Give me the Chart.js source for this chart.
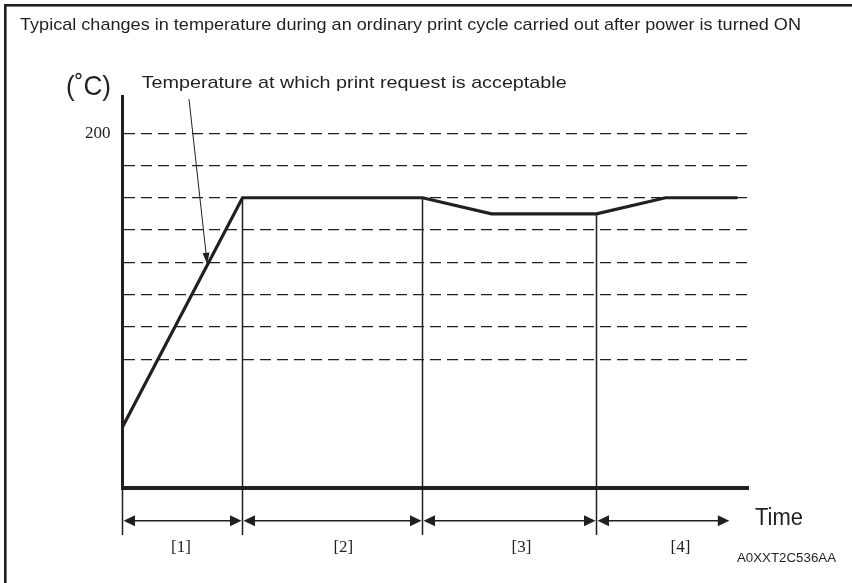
<!DOCTYPE html>
<html>
<head>
<meta charset="utf-8">
<script src="https://cdn.jsdelivr.net/npm/chart.js@4/dist/chart.umd.min.js"></script>
<style>
  html, body { margin: 0; padding: 0; background: #ffffff; }
  #wrap { position: relative; width: 852px; height: 583px; }
  canvas { display: block; }
</style>
</head>
<body>
<div id="wrap"><canvas id="chart" width="852" height="583"></canvas></div>
<script>
// Fixing temperature over one print cycle after power ON
const timePoints   = [0, 20, 50, 61.5, 79, 90.5, 102.5];
const temperatures = [109, 180, 180, 175, 175, 180, 180];

// Dashed reference levels (°C) and the only labelled tick
const gridTemps  = [130, 140, 150, 160, 170, 180, 190, 200];
const tickLabels = ['200'];

// Cycle phases along the time axis
const phaseBounds = [0, 20, 50, 79, 101.3];
const phaseLabels = ['[1]', '[2]', '[3]', '[4]'];
const phaseLabelAt = [9.75, 36.8, 66.5, 93];

// Temperature at which a print request is accepted
const readyTemp = 160;

const INK = '#231f20';
const SANS = '"Liberation Sans", Arial, sans-serif';
const SERIF = '"Liberation Serif", "Times New Roman", serif';

function tempAt(t) {
  for (let i = 1; i < timePoints.length; i++) {
    if (t <= timePoints[i]) {
      const f = (t - timePoints[i - 1]) / (timePoints[i] - timePoints[i - 1]);
      return temperatures[i - 1] + f * (temperatures[i] - temperatures[i - 1]);
    }
  }
  return temperatures[temperatures.length - 1];
}

function timeAtRamp(temp) {
  const f = (temp - temperatures[0]) / (temperatures[1] - temperatures[0]);
  return timePoints[0] + f * (timePoints[1] - timePoints[0]);
}

function drawText(ctx, str, x, y, font, width, align) {
  ctx.save();
  ctx.font = font;
  const w = ctx.measureText(str).width;
  const k = width ? width / w : 1;
  const left = align === 'center' ? x - (w * k) / 2 : x;
  ctx.translate(left, y);
  ctx.scale(k, 1);
  ctx.textAlign = 'left';
  ctx.textBaseline = 'alphabetic';
  ctx.fillStyle = INK;
  ctx.fillText(str, 0, 0);
  ctx.restore();
}

function arrowHead(ctx, tipX, tipY, dx, dy, len, half) {
  const n = Math.hypot(dx, dy);
  const ux = dx / n, uy = dy / n;
  const bx = tipX - ux * len, by = tipY - uy * len;
  ctx.beginPath();
  ctx.moveTo(tipX, tipY);
  ctx.lineTo(bx - uy * half, by + ux * half);
  ctx.lineTo(bx + uy * half, by - ux * half);
  ctx.closePath();
  ctx.fill();
}

const decorations = {
  id: 'decorations',
  afterDraw(chart) {
    const ctx = chart.ctx;
    const xs = chart.scales.x, ys = chart.scales.y;
    const axisY = chart.chartArea.bottom;
    const dimTop = axisY, dimBottom = 535, dimY = 520.7;

    ctx.save();
    ctx.fillStyle = INK;
    ctx.strokeStyle = INK;

    // frame
    ctx.fillRect(4, 4, 848, 2.6);
    ctx.fillRect(4, 4, 2.6, 579);

    // texts
    drawText(ctx, 'Typical changes in temperature during an ordinary print cycle carried out after power is turned ON',
      20, 30, '17px ' + SANS, 781);
    drawText(ctx, '(\u02DAC)', 66, 95, '28px ' + SANS, 45);
    drawText(ctx, 'Temperature at which print request is acceptable', 141.7, 88.3, '17px ' + SANS, 425);
    drawText(ctx, 'Time', 755, 525, '23px ' + SANS, 48);
    drawText(ctx, 'A0XXT2C536AA', 737, 561.7, '12px ' + SANS, 99);

    // leader to the print-ready point on the warm-up ramp
    const tipX = xs.getPixelForValue(timeAtRamp(readyTemp)) - 1.5;
    const tipY = ys.getPixelForValue(readyTemp) + 1.5;
    const tailX = 189, tailY = 99;
    ctx.lineWidth = 1;
    ctx.beginPath();
    ctx.moveTo(tailX, tailY);
    ctx.lineTo(tipX, tipY);
    ctx.stroke();
    arrowHead(ctx, tipX, tipY, tipX - tailX, tipY - tailY, 11, 3.5);

    // phase boundary lines
    ctx.lineWidth = 1.5;
    phaseBounds.slice(0, 4).forEach((t) => {
      const px = xs.getPixelForValue(t);
      const top = t === 0 ? dimTop : ys.getPixelForValue(tempAt(t));
      ctx.beginPath();
      ctx.moveTo(px, top);
      ctx.lineTo(px, dimBottom);
      ctx.stroke();
    });

    // dimension arrows and phase labels
    ctx.lineWidth = 1.4;
    for (let i = 0; i < phaseLabels.length; i++) {
      const a = xs.getPixelForValue(phaseBounds[i]);
      const b = xs.getPixelForValue(phaseBounds[i + 1]);
      ctx.beginPath();
      ctx.moveTo(a + 4, dimY);
      ctx.lineTo(b - 4, dimY);
      ctx.stroke();
      arrowHead(ctx, a + 1, dimY, -1, 0, 11.5, 5.5);
      arrowHead(ctx, b - 1, dimY, 1, 0, 11.5, 5.5);
      drawText(ctx, phaseLabels[i], xs.getPixelForValue(phaseLabelAt[i]), 551.7, '17px ' + SERIF, null, 'center');
    }
    ctx.restore();
  }
};

new Chart(document.getElementById('chart'), {
  type: 'line',
  data: {
    datasets: [{
      data: timePoints.map((t, i) => ({ x: t, y: temperatures[i] })),
      borderColor: INK,
      borderWidth: 3.2,
      borderJoinStyle: 'miter',
      pointRadius: 0,
      tension: 0,
      fill: false,
      clip: false
    }]
  },
  options: {
    responsive: false,
    animation: false,
    devicePixelRatio: 1,
    layout: { padding: { left: 0, top: 96.7, right: 104, bottom: 0 } },
    plugins: {
      legend: { display: false },
      tooltip: { enabled: false },
      title: { display: false }
    },
    scales: {
      x: {
        type: 'linear',
        min: 0,
        max: 104.25,
        grid: { display: false },
        border: { display: true, color: INK, width: 4 },
        ticks: { display: false },
        afterFit(scale) { scale.height = 583 - 488.3; }
      },
      y: {
        type: 'linear',
        min: 90,
        max: 211.3,
        afterBuildTicks(scale) { scale.ticks = gridTemps.map((v) => ({ value: v })); },
        grid: { color: INK, lineWidth: 1.3, drawTicks: false },
        border: { display: true, color: INK, width: 3, dash: [11, 6] },
        ticks: {
          color: INK,
          padding: 12,
          font: { family: SERIF, size: 17 },
          callback: (v) => (tickLabels.includes(String(v)) ? String(v) : '')
        },
        afterFit(scale) { scale.width = 122.5; }
      }
    }
  },
  plugins: [decorations]
});
</script>
</body>
</html>
